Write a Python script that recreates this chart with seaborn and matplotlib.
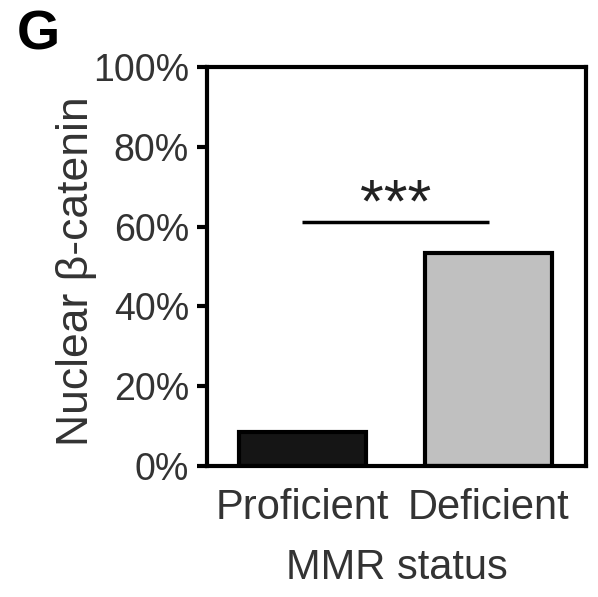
import matplotlib
matplotlib.use("Agg")
import matplotlib.pyplot as plt
import seaborn as sns
import pandas as pd
from matplotlib.ticker import PercentFormatter

# Nuclear beta-catenin positivity by MMR status
categories = ["Proficient", "Deficient"]
nuclear_pct = [8.5, 53.5]
bar_colors = ["#151515", "#c0c0c0"]
yticks = [0, 20, 40, 60, 80, 100]
sig_level = 61.2
sig_label = "***"

sns.set_theme(style="white")
plt.rcParams["font.family"] = ["Liberation Sans", "DejaVu Sans"]

df = pd.DataFrame({"status": categories, "pct": nuclear_pct})

fig = plt.figure(figsize=(5.98, 5.97), dpi=100)
ax = fig.add_axes([207 / 598, 1 - 466 / 597, 379 / 598, 399 / 597])

sns.barplot(data=df, x="status", y="pct", hue="status", palette=bar_colors,
            legend=False, width=0.68, edgecolor="black", linewidth=3.0,
            saturation=1, ax=ax)

ax.set_ylim(0, 100)
ax.set_xlim(-0.51, 1.52)
ax.set_yticks(yticks)
ax.yaxis.set_major_formatter(PercentFormatter(decimals=0))

for side in ["left", "right", "top", "bottom"]:
    ax.spines[side].set_visible(True)
    ax.spines[side].set_color("black")
    ax.spines[side].set_linewidth(3.0)

text_color = "#333333"
ax.tick_params(axis="y", direction="out", length=7, width=3, color="black",
               labelsize=27, pad=6, left=True)
ax.tick_params(axis="x", length=0, labelsize=30, pad=16)
for lbl in ax.get_yticklabels() + ax.get_xticklabels():
    lbl.set_color(text_color)

ax.set_xlabel("MMR status", fontsize=30, color=text_color)
ax.set_ylabel("Nuclear β-catenin", fontsize=32, color=text_color)
ax.xaxis.set_label_coords(0.5, -0.205)
ax.yaxis.set_label_coords(-0.29, 0.4875)

# significance bar between the two groups
ax.plot([0, 1], [sig_level, sig_level], color="black", linewidth=2.5,
        solid_capstyle="butt")
ax.text(0.5, sig_level + 0.2, sig_label, ha="center", va="baseline",
        fontsize=44, color="#222222")

fig.text(17 / 598, 1 - 10 / 597, "G", fontsize=40, fontweight="bold",
         ha="left", va="top", color="black")

fig.savefig("out.png", dpi=100)
